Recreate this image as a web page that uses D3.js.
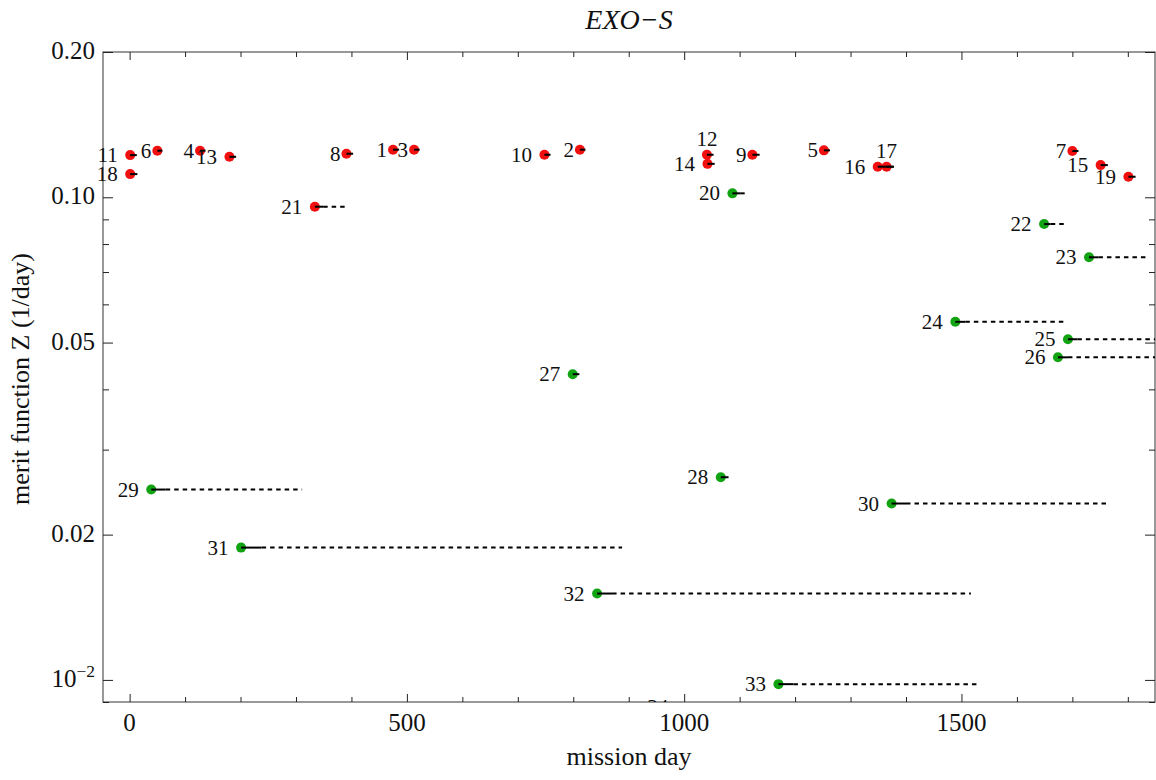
<!DOCTYPE html>
<html>
<head>
<meta charset="utf-8">
<script src="https://cdn.jsdelivr.net/npm/d3@7"></script>
<style>
  html, body { margin: 0; padding: 0; background: #fff; }
  svg { display: block; font-family: "Liberation Serif", "DejaVu Serif", serif; }
</style>
</head>
<body>
<svg id="chart" width="1156" height="780"></svg>
<script>
// ---- data ----
const ids      = [1,2,3,4,5,6,7,8,9,10,11,12,13,14,15,16,17,18,19,20,21,22,23,24,25,26,27,28,29,30,31,32,33,34];
const days     = [475,812,513,127,1252,50,1700,391,1123,748,1,1041,180,1042,1751,1349,1365,1,1801,1087,334,1649,1730,1489,1692,1674,799,1066,39,1374,201,843,1170,994];
const merit    = [0.1255,0.1255,0.1255,0.1249,0.1251,0.1249,0.1247,0.1231,0.1225,0.1225,0.1223,0.1225,0.1213,0.1173,0.1166,0.1157,0.1157,0.1117,0.1103,0.1019,0.0956,0.0880,0.0751,0.0552,0.0508,0.0466,0.0430,0.0263,0.0248,0.0232,0.0188,0.0151,0.0098,0.0088];
const solidEnd = [486,822,523,137,1263,59,1711,403,1136,759,13,1053,192,1055,1764,1378,1378,14,1814,1101,349,1661,1747,1507,1709,1692,811,1080,65,1400,238,870,1197,1020];
const dashEnd  = [null,null,null,null,null,null,null,null,null,null,null,null,null,null,null,null,null,null,null,1113,391,1690,1832,1688,1900,1900,null,null,311,1761,888,1517,1530,null];
const groups   = ["A","A","A","A","A","A","A","A","A","A","A","A","A","A","A","A","A","A","A","B","A","B","B","B","B","B","B","B","B","B","B","B","B","B"];
const labelAbove = [12, 17];
const xTicksMajor = [0, 500, 1000, 1500];
const xTicksMinor = [100,200,300,400,600,700,800,900,1100,1200,1300,1400,1600,1700,1800];
const yTicksMajor = [0.2, 0.1, 0.05, 0.02, 0.01];
const yTickLabels = ["0.20", "0.10", "0.05", "0.02", "10^-2"];
const yTicksMinor = [0.09, 0.08, 0.07, 0.06, 0.04, 0.03, 0.009];
const xDomain = [-48, 1849];
const yDomain = [0.2, 0.009];
const title = "EXO\u2212S";
const xTitle = "mission day";
const yTitle = "merit function Z (1/day)";

const data = ids.map((id, i) => ({id, day: days[i], z: merit[i], s: solidEnd[i], d: dashEnd[i], g: groups[i]}));

// ---- layout ----
const L = 103, R = 1155, T = 52, B = 702;
const svg = d3.select("#chart");
const x = d3.scaleLinear().domain(xDomain).range([L, R]);
const y = d3.scaleLog().domain(yDomain).range([T, B]);
const color = d3.scaleOrdinal().domain(["A","B"]).range(["#f01010", "#12a312"]);

const defs = svg.append("defs");
defs.append("clipPath").attr("id","plotclip").append("rect")
  .attr("x", L).attr("y", T).attr("width", R - L).attr("height", B - T);
defs.append("clipPath").attr("id","labelclip").append("rect")
  .attr("x", 0).attr("y", 0).attr("width", 1156).attr("height", B);

// frame
svg.append("rect").attr("x", L).attr("y", T).attr("width", R - L).attr("height", B - T)
  .attr("fill", "none").attr("stroke", "#555").attr("stroke-width", 1.2);

// axes via d3 axis generators (ticks inward)
const tickCol = "#222";
function styleAxis(g) {
  g.select(".domain").remove();
  g.selectAll(".tick line").attr("stroke", tickCol).attr("stroke-width", 1);
  g.selectAll("text").attr("font-family", "Liberation Serif").attr("fill", "#111");
}
svg.append("g").attr("transform", `translate(0,${B})`)
  .call(d3.axisTop(x).tickValues(xTicksMajor).tickSize(8).tickFormat(""))
  .call(styleAxis);
svg.append("g").attr("transform", `translate(0,${B})`)
  .call(d3.axisTop(x).tickValues(xTicksMinor).tickSize(5).tickFormat(""))
  .call(styleAxis);
svg.append("g").attr("transform", `translate(0,${T})`)
  .call(d3.axisBottom(x).tickValues(xTicksMajor).tickSize(8).tickFormat(""))
  .call(styleAxis);
svg.append("g").attr("transform", `translate(0,${T})`)
  .call(d3.axisBottom(x).tickValues(xTicksMinor).tickSize(5).tickFormat(""))
  .call(styleAxis);
svg.append("g").attr("transform", `translate(${L},0)`)
  .call(d3.axisRight(y).tickValues(yTicksMajor).tickSize(10).tickFormat(""))
  .call(styleAxis);
svg.append("g").attr("transform", `translate(${L},0)`)
  .call(d3.axisRight(y).tickValues(yTicksMinor).tickSize(6).tickFormat(""))
  .call(styleAxis);
svg.append("g").attr("transform", `translate(${R},0)`)
  .call(d3.axisLeft(y).tickValues(yTicksMajor).tickSize(10).tickFormat(""))
  .call(styleAxis);
svg.append("g").attr("transform", `translate(${R},0)`)
  .call(d3.axisLeft(y).tickValues(yTicksMinor).tickSize(6).tickFormat(""))
  .call(styleAxis);

// tick labels
const tickFont = 25;
svg.append("g").selectAll("text").data(xTicksMajor).join("text")
  .attr("x", d => x(d)).attr("y", B + 29)
  .attr("text-anchor", "middle").attr("font-size", tickFont).attr("fill", "#111")
  .text(d => d);
const yl = svg.append("g").selectAll("text").data(yTicksMajor).join("text")
  .attr("x", L - 8).attr("y", d => y(d) + 7)
  .attr("text-anchor", "end").attr("font-size", tickFont).attr("fill", "#111");
yl.each(function(d, i) {
  const lab = yTickLabels[i];
  const t = d3.select(this);
  if (lab.includes("^")) {
    const [base, exp] = lab.split("^");
    t.append("tspan").text(base);
    t.append("tspan").attr("dy", -10).attr("font-size", tickFont * 0.7).text(exp.replace("-", "\u2212"));
  } else {
    t.text(lab);
  }
});

// titles
svg.append("text").attr("x", (L + R) / 2).attr("y", 29).attr("text-anchor", "middle")
  .attr("font-size", 28).attr("font-style", "italic").attr("fill", "#111").text(title);
svg.append("text").attr("x", (L + R) / 2).attr("y", 765).attr("text-anchor", "middle")
  .attr("font-size", 26).attr("fill", "#111").text(xTitle);
svg.append("text").attr("transform", `translate(29,${(T + B) / 2 + 2}) rotate(-90)`)
  .attr("text-anchor", "middle").attr("font-size", 26).attr("fill", "#111").text(yTitle);

// marks
const plot = svg.append("g").attr("clip-path", "url(#plotclip)");
plot.selectAll("circle").data(data).join("circle")
  .attr("cx", d => x(d.day)).attr("cy", d => y(d.z)).attr("r", 5)
  .attr("fill", d => color(d.g));
plot.selectAll("line.dash").data(data.filter(d => d.d !== null)).join("line")
  .attr("class", "dash")
  .attr("x1", d => x(d.s)).attr("x2", d => x(d.d))
  .attr("y1", d => y(d.z)).attr("y2", d => y(d.z))
  .attr("stroke", "#000").attr("stroke-width", 2).attr("stroke-dasharray", "4.5,4");
plot.selectAll("line.solid").data(data).join("line")
  .attr("class", "solid")
  .attr("x1", d => x(d.day)).attr("x2", d => x(d.s))
  .attr("y1", d => y(d.z)).attr("y2", d => y(d.z))
  .attr("stroke", "#000").attr("stroke-width", 2);

// point labels
const labels = svg.append("g").attr("clip-path", "url(#labelclip)");
labels.selectAll("text").data(data).join("text")
  .attr("font-size", 21).attr("fill", "#111")
  .attr("text-anchor", d => labelAbove.includes(d.id) ? "middle" : "end")
  .attr("x", d => labelAbove.includes(d.id) ? x(d.day) : x(d.day) - (6 + 6.5 * (String(d.id).length - 1)))
  .attr("y", d => labelAbove.includes(d.id) ? y(d.z) - 9 : y(d.z) + 7)
  .text(d => d.id);
</script>
</body>
</html>
